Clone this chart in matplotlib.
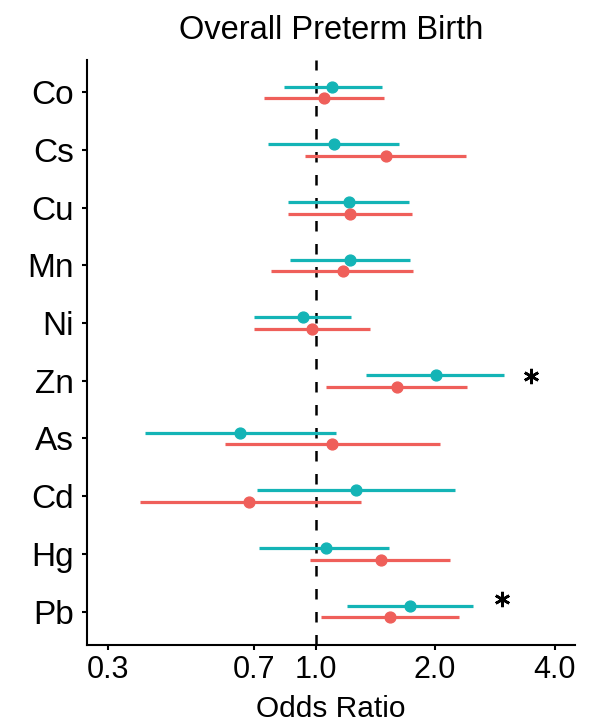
import numpy as np
import matplotlib
matplotlib.use("Agg")
import matplotlib.pyplot as plt

plt.rcParams['font.family'] = ['Liberation Sans', 'DejaVu Sans']

categories = ['Co', 'Cs', 'Cu', 'Mn', 'Ni', 'Zn', 'As', 'Cd', 'Hg', 'Pb']
teal_or = [1.10, 1.11, 1.21, 1.22, 0.93, 2.01, 0.644, 1.26, 1.06, 1.73]
teal_lo = [0.83, 0.76, 0.85, 0.86, 0.70, 1.34, 0.372, 0.71, 0.72, 1.20]
teal_hi = [1.47, 1.62, 1.72, 1.73, 1.23, 2.98, 1.125, 2.24, 1.53, 2.49]
red_or = [1.05, 1.50, 1.22, 1.17, 0.98, 1.60, 1.10, 0.68, 1.46, 1.54]
red_lo = [0.74, 0.94, 0.85, 0.77, 0.70, 1.06, 0.59, 0.36, 0.97, 1.03]
red_hi = [1.49, 2.39, 1.75, 1.76, 1.37, 2.40, 2.06, 1.30, 2.18, 2.30]
star_cats = ['Zn', 'Pb']
star_x = [3.48, 2.95]
xticks = [0.3, 0.7, 1.0, 2.0, 4.0]
xtick_labels = ['0.3', '0.7', '1.0', '2.0', '4.0']

TEAL = '#14B4B6'
RED = '#EF5F5A'

fig = plt.figure(figsize=(5.98, 7.23), dpi=100)
ax = fig.add_axes([0.1455, 0.1079, 0.816, 0.809])

pos = np.arange(len(categories))
off = 0.1

def draw(orv, lo, hi, yoff, color):
    orv = np.array(orv); lo = np.array(lo); hi = np.array(hi)
    ax.errorbar(orv, pos + yoff, xerr=[orv - lo, hi - orv], fmt='o',
                color=color, ecolor=color, elinewidth=2.3, capsize=0,
                markersize=7.8, zorder=3)

ax.axvline(1.0, color='black', lw=1.8, linestyle=(0, (4.2, 5.0)), zorder=2)
draw(teal_or, teal_lo, teal_hi, -off, TEAL)
draw(red_or, red_lo, red_hi, off, RED)

star_off = {'Zn': -0.09, 'Pb': -0.22}
for c, sx in zip(star_cats, star_x):
    ax.plot([sx], [categories.index(c) + star_off[c]], linestyle='none',
            marker=(6, 2, 0), markersize=11, markeredgewidth=1.9,
            color='black', zorder=4)

ax.set_xscale('log')
ax.set_xlim(0.2655, 4.50)
ax.set_ylim(9.58, -0.56)
ax.set_xticks(xticks)
ax.set_xticklabels(xtick_labels)
ax.xaxis.set_minor_locator(matplotlib.ticker.NullLocator())
ax.set_yticks(pos)
ax.set_yticklabels(categories)

for s in ['top', 'right']:
    ax.spines[s].set_visible(False)
for s in ['left', 'bottom']:
    ax.spines[s].set_linewidth(1.5)

ax.tick_params(axis='y', length=3.6, width=1.5, pad=6, labelsize=24, colors='black')
ax.tick_params(axis='x', length=3.6, width=1.5, pad=3.5, labelsize=22, colors='black')

ax.set_xlabel('Odds Ratio', fontsize=21.5, labelpad=7)
ax.set_title('Overall Preterm Birth', fontsize=23.5, pad=15)

fig.savefig('out.png', dpi=100)
